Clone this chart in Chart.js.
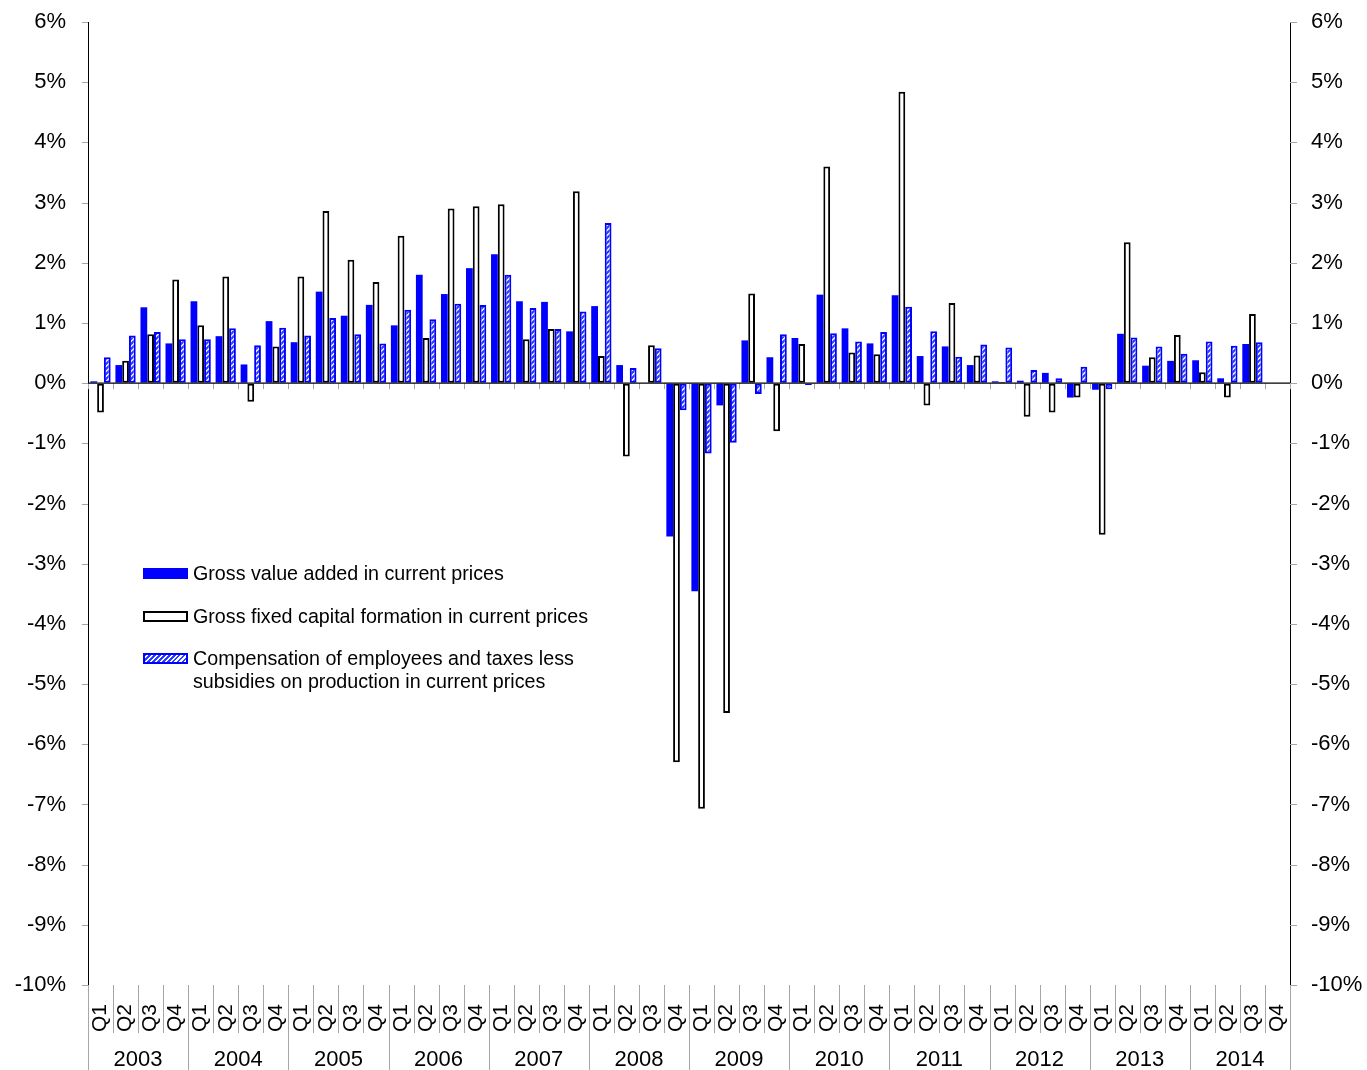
<!DOCTYPE html>
<html>
<head>
<meta charset="utf-8">
<script src="https://cdn.jsdelivr.net/npm/chart.js@4/dist/chart.umd.min.js"></script>
<style>
  html, body { margin: 0; padding: 0; background: #fff; }
  #wrap { position: relative; width: 1367px; height: 1070px; }
  #chart { position: absolute; left: 0; top: 0; }
  .leg { position: absolute; font-family: "Liberation Sans", Arial, sans-serif; font-size: 19.7px; color: #000; line-height: 23px; white-space: nowrap; }
  .sw { position: absolute; box-sizing: border-box; width: 45px; height: 11px; }
  .sw.gva { background: #0000ff; }
  .sw.gfcf { background: #fff; border: 2px solid #000; }
  .sw.comp { border: 2px solid #0000ff;
    background: repeating-linear-gradient(-45deg, #ffffff 0 1.5px, #2a3cff 1.5px 3.5px); }
</style>
</head>
<body>
<div id="wrap">
  <canvas id="chart" width="1367" height="1070"></canvas>
  <div class="sw gva" style="left:143px; top:568px;"></div>
  <div class="leg" style="left:193px; top:562px;">Gross value added in current prices</div>
  <div class="sw gfcf" style="left:143px; top:611px;"></div>
  <div class="leg" style="left:193px; top:605px;">Gross fixed capital formation in current prices</div>
  <div class="sw comp" style="left:143px; top:653px;"></div>
  <div class="leg" style="left:193px; top:647px;">Compensation of employees and taxes less<br>subsidies on production in current prices</div>
</div>
<script>
// Quarter-on-quarter growth, percent
const years = ['2003', '2004', '2005', '2006', '2007', '2008', '2009', '2010', '2011', '2012', '2013', '2014'];
const quarters = ['Q1', 'Q2', 'Q3', 'Q4'];

const grossValueAdded = [
  0.03, 0.30, 1.26, 0.66,
  1.36, 0.78, 0.31, 1.03,
  0.68, 1.52, 1.12, 1.30,
  0.96, 1.80, 1.48, 1.91,
  2.14, 1.36, 1.35, 0.86,
  1.28, 0.30, 0.00, -2.55,
  -3.46, -0.37, 0.71, 0.43,
  0.75, 1.47, 0.91, 0.66,
  1.46, 0.45, 0.61, 0.30,
  0.03, 0.04, 0.17, -0.24,
  -0.11, 0.82, 0.29, 0.37,
  0.38, 0.08, 0.65, null
];
const grossFixedCapital = [
  -0.49, 0.37, 0.81, 1.72,
  0.96, 1.77, -0.31, 0.61,
  1.77, 2.86, 2.05, 1.68,
  2.45, 0.75, 2.90, 2.94,
  2.97, 0.73, 0.90, 3.19,
  0.45, -1.22, 0.63, -6.30,
  -7.07, -5.48, 1.49, -0.80,
  0.65, 3.60, 0.51, 0.48,
  4.84, -0.37, 1.33, 0.46,
  0.02, -0.56, -0.49, -0.24,
  -2.52, 2.34, 0.43, 0.80,
  0.18, -0.24, 1.15, null
];
const compensationAndTaxes = [
  0.43, 0.79, 0.85, 0.73,
  0.73, 0.91, 0.63, 0.92,
  0.79, 1.08, 0.81, 0.66,
  1.22, 1.06, 1.32, 1.30,
  1.80, 1.25, 0.90, 1.19,
  2.66, 0.25, 0.58, -0.45,
  -1.17, -0.99, -0.18, 0.81,
  -0.03, 0.83, 0.69, 0.85,
  1.27, 0.86, 0.44, 0.64,
  0.59, 0.22, 0.08, 0.27,
  -0.10, 0.76, 0.61, 0.49,
  0.69, 0.62, 0.68, null
];
const yMin = -10, yMax = 6;

const labels = [];
years.forEach(() => quarters.forEach(q => labels.push(q)));

const FONT = '"Liberation Sans", Arial, sans-serif';
const TICK_GREY = '#a6a6a6';

// diagonal hatch fill: blue stripes with thin white gaps
function hatchPattern() {
  const c = document.createElement('canvas');
  c.width = 5; c.height = 5;
  const g = c.getContext('2d');
  g.fillStyle = '#fff';
  g.fillRect(0, 0, 5, 5);
  g.strokeStyle = '#2a3cff';
  g.lineWidth = 2.2;
  g.beginPath();
  g.moveTo(-1, 6); g.lineTo(6, -1);
  g.moveTo(-1, 1); g.lineTo(1, -1);
  g.moveTo(4, 6); g.lineTo(6, 4);
  g.stroke();
  return g.createPattern(c, 'repeat');
}

// short y tick marks, zero line with its ticks, quarter/year separators, year labels
const axisDecor = {
  id: 'axisDecor',
  afterDatasetsDraw(chart) {
    const { ctx, chartArea: a, scales } = chart;
    const y0 = scales.y.getPixelForValue(0);
    const n = labels.length;
    const step = (a.right - a.left) / n;
    ctx.save();
    ctx.strokeStyle = TICK_GREY;
    ctx.lineWidth = 1;
    // y tick marks on both sides
    scales.y.ticks.forEach(t => {
      const y = Math.round(scales.y.getPixelForValue(t.value)) + 0.5;
      ctx.beginPath(); ctx.moveTo(a.left - 6, y); ctx.lineTo(a.left, y); ctx.stroke();
      ctx.beginPath(); ctx.moveTo(a.right, y); ctx.lineTo(a.right + 7, y); ctx.stroke();
    });
    // small ticks under the zero line
    for (let i = 0; i <= n; i++) {
      const x = Math.round(a.left + i * step) + 0.5;
      ctx.beginPath(); ctx.moveTo(x, y0); ctx.lineTo(x, y0 + 6); ctx.stroke();
    }
    ctx.strokeStyle = '#000';
    ctx.lineWidth = 1.3;
    ctx.beginPath(); ctx.moveTo(a.left, y0); ctx.lineTo(a.right, y0); ctx.stroke();
    // separators under the plot
    ctx.strokeStyle = TICK_GREY;
    ctx.lineWidth = 1;
    const h = chart.height;
    for (let i = 0; i <= n; i++) {
      const x = Math.round(a.left + i * step) + 0.5;
      const end = (i % 4 === 0) ? h : a.bottom + 48;
      ctx.beginPath(); ctx.moveTo(x, a.bottom); ctx.lineTo(x, end); ctx.stroke();
    }
    ctx.fillStyle = '#000';
    ctx.font = '22px ' + FONT;
    ctx.textAlign = 'center';
    ctx.textBaseline = 'middle';
    years.forEach((yr, k) => {
      const cx = a.left + (k * 4 + 2) * step;
      ctx.fillText(yr, cx, a.bottom + 75);
    });
    ctx.restore();
  }
};

const hatch = hatchPattern();

new Chart(document.getElementById('chart'), {
  type: 'bar',
  data: {
    labels,
    datasets: [
      {
        label: 'Gross value added in current prices',
        data: grossValueAdded,
        backgroundColor: '#0000ff',
        borderWidth: 0
      },
      {
        label: 'Gross fixed capital formation in current prices',
        data: grossFixedCapital,
        backgroundColor: '#ffffff',
        borderColor: '#000000',
        borderWidth: 2,
        borderSkipped: false
      },
      {
        label: 'Compensation of employees and taxes less subsidies on production in current prices',
        data: compensationAndTaxes,
        backgroundColor: hatch,
        borderColor: '#0000ff',
        borderWidth: 2,
        borderSkipped: false
      }
    ]
  },
  options: {
    responsive: false,
    animation: false,
    devicePixelRatio: 1,
    layout: { padding: { top: 22, left: 0, right: 0, bottom: 0 } },
    datasets: { bar: { barPercentage: 1.0, categoryPercentage: 0.81 } },
    plugins: { legend: { display: false }, tooltip: { enabled: false } },
    scales: {
      x: {
        grid: { display: false },
        border: { display: false },
        ticks: {
          autoSkip: false,
          minRotation: 90,
          maxRotation: 90,
          padding: 11,
          color: '#000',
          font: { family: FONT, size: 21 }
        },
        afterFit(s) { s.height = 85; }
      },
      y: {
        position: 'left',
        min: yMin, max: yMax,
        grid: { drawOnChartArea: false, tickLength: 22, tickColor: 'rgba(0,0,0,0)' },
        border: { display: true, color: '#000', width: 1 },
        ticks: {
          stepSize: 1,
          padding: 0,
          color: '#000',
          font: { family: FONT, size: 22 },
          callback: v => v + '%'
        },
        afterFit(s) { s.width = 88; }
      },
      y2: {
        position: 'right',
        min: yMin, max: yMax,
        grid: { drawOnChartArea: false, tickLength: 21, tickColor: 'rgba(0,0,0,0)' },
        border: { display: true, color: '#000', width: 1 },
        ticks: {
          stepSize: 1,
          padding: 0,
          color: '#000',
          font: { family: FONT, size: 22 },
          callback: v => v + '%'
        },
        afterFit(s) { s.width = 77; }
      }
    }
  },
  plugins: [axisDecor]
});
</script>
</body>
</html>
